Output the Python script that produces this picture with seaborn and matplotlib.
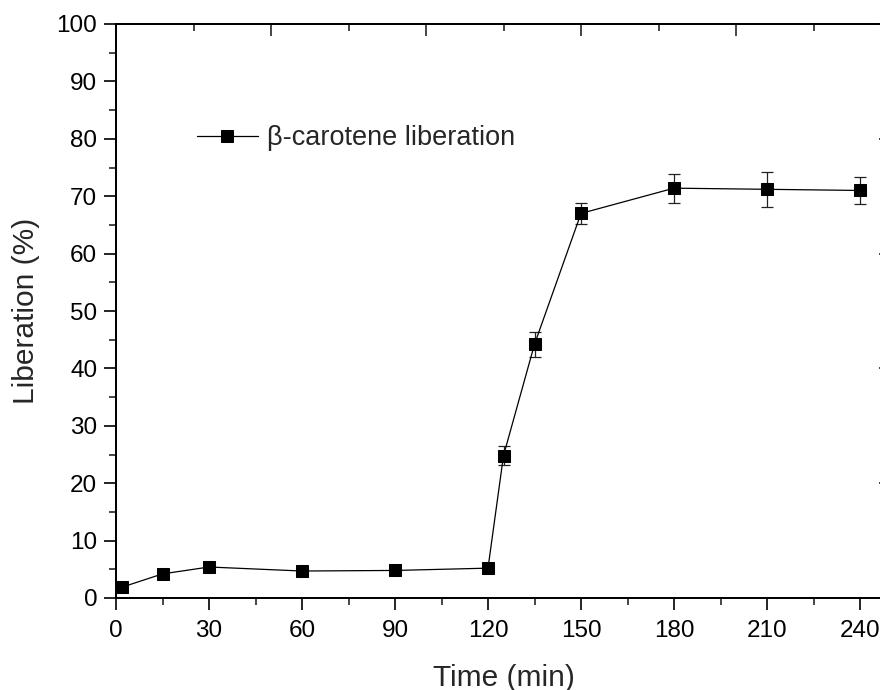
import matplotlib
matplotlib.use("Agg")
import matplotlib.pyplot as plt
from matplotlib.ticker import MultipleLocator
import seaborn as sns
import pandas as pd

# Release profile of beta-carotene over time
time_min = [2, 15, 30, 60, 90, 120, 125, 135, 150, 180, 210, 240]
liberation = [1.9, 4.2, 5.4, 4.7, 4.8, 5.2, 24.8, 44.2, 67.0, 71.4, 71.2, 71.0]
liberation_sd = [0.4, 0.5, 0.5, 0.4, 0.4, 0.4, 1.6, 2.2, 1.8, 2.5, 3.1, 2.4]
series_label = "\u03b2-carotene liberation"

df = pd.DataFrame({"Time": time_min, "Liberation": liberation, "SD": liberation_sd})

sns.set_style("ticks")
plt.rcParams["font.family"] = ["Liberation Sans", "DejaVu Sans"]

fig = plt.figure(figsize=(8.8, 6.9), dpi=100)
ax = fig.add_axes([116 / 880, 92 / 690, 775 / 880, 574 / 690])

ax.errorbar(df["Time"], df["Liberation"], yerr=df["SD"], fmt="none",
            ecolor="#222222", elinewidth=0.9, capsize=4.5, capthick=0.9, zorder=2)
sns.lineplot(data=df, x="Time", y="Liberation", ax=ax, color="black",
             linewidth=0.9, marker="s", markersize=9.2, markeredgecolor="black",
             label=series_label, zorder=3)

ax.set_xlim(0, 250)
ax.set_ylim(0, 100)
ax.xaxis.set_major_locator(MultipleLocator(30))
ax.xaxis.set_minor_locator(MultipleLocator(15))
ax.yaxis.set_major_locator(MultipleLocator(10))
ax.yaxis.set_minor_locator(MultipleLocator(5))
ax.set_xticks(range(0, 241, 30))

ax.set_xlabel("Time (min)", fontsize=21.5, labelpad=16)
ax.set_ylabel("Liberation (%)", fontsize=21.5, labelpad=12)

ax.tick_params(which="major", direction="out", length=8.5, width=1.2,
               labelsize=17.5, pad=5, colors="black")
ax.tick_params(which="minor", direction="out", length=5, width=1.2)
ax.tick_params(axis="x", which="major", pad=7)

for sp in ax.spines.values():
    sp.set_visible(True)
    sp.set_linewidth(1.2)
    sp.set_color("black")

# top and right frame axes with inward ticks
ax_top = ax.twiny()
ax_top.set_xlim(0, 250)
ax_top.xaxis.set_major_locator(MultipleLocator(50))
ax_top.xaxis.set_minor_locator(MultipleLocator(25))
ax_top.tick_params(which="major", direction="in", length=8.5, width=1.2, labeltop=False)
ax_top.tick_params(which="minor", direction="in", length=5, width=1.2)

ax_right = ax.twinx()
ax_right.set_ylim(0, 100)
ax_right.yaxis.set_major_locator(MultipleLocator(20))
ax_right.yaxis.set_minor_locator(MultipleLocator(10))
ax_right.tick_params(which="major", direction="in", length=8.5, width=1.2, labelright=False)
ax_right.tick_params(which="minor", direction="in", length=5, width=1.2)

for a in (ax_top, ax_right):
    for sp in a.spines.values():
        sp.set_linewidth(1.2)
        sp.set_color("black")

leg = ax.legend(loc="center left", bbox_to_anchor=(197 / 880, 1 - 138 / 690),
                bbox_transform=fig.transFigure, frameon=False, fontsize=19.5,
                handlelength=2.25, handletextpad=0.35, borderpad=0,
                borderaxespad=0, markerscale=0.9)

fig.savefig("out.png", dpi=100)
